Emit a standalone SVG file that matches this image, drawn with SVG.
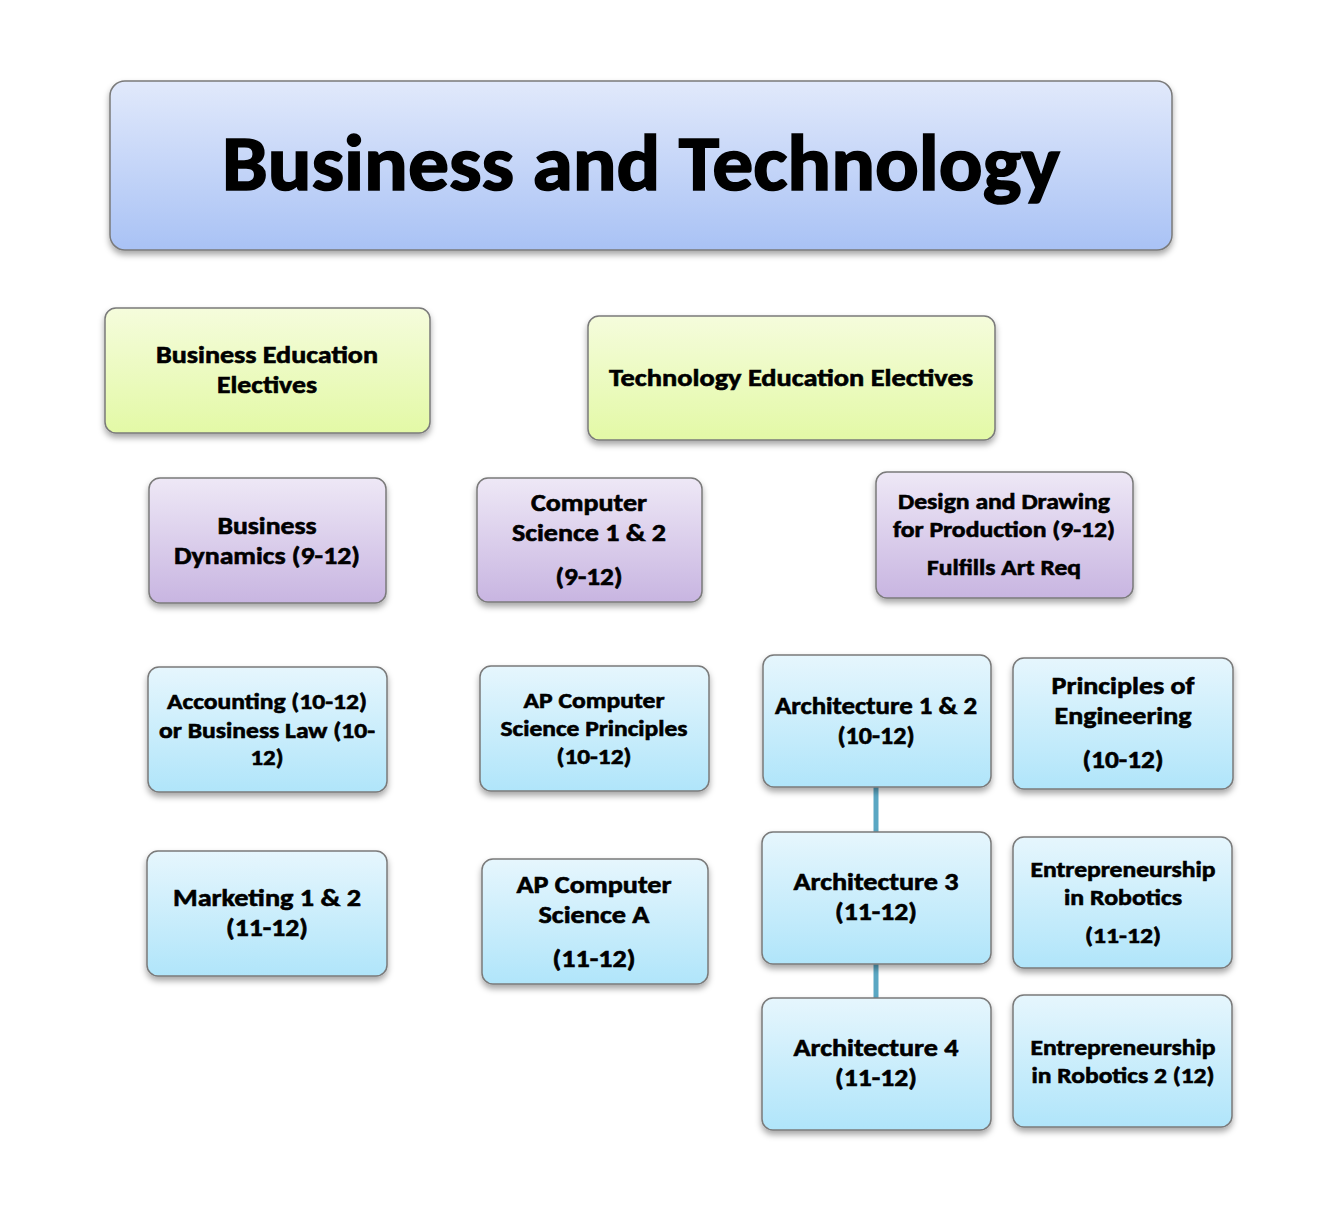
<svg xmlns="http://www.w3.org/2000/svg" width="1332" height="1228" viewBox="0 0 1332 1228">
<defs>
<linearGradient id="gTitle" x1="0" y1="0" x2="0" y2="1"><stop offset="0" stop-color="#e1e9fb"/><stop offset="1" stop-color="#a9c2f5"/></linearGradient>
<linearGradient id="gGreen" x1="0" y1="0" x2="0" y2="1"><stop offset="0" stop-color="#f5fcdc"/><stop offset="1" stop-color="#e3f9a6"/></linearGradient>
<linearGradient id="gPurple" x1="0" y1="0" x2="0" y2="1"><stop offset="0" stop-color="#eee8f6"/><stop offset="1" stop-color="#c8b5e1"/></linearGradient>
<linearGradient id="gBlue" x1="0" y1="0" x2="0" y2="1"><stop offset="0" stop-color="#e6f6fd"/><stop offset="1" stop-color="#b0e5fa"/></linearGradient>
<filter id="sh" x="-10%" y="-10%" width="120%" height="130%"><feDropShadow dx="0" dy="4" stdDeviation="3" flood-color="#000" flood-opacity="0.35"/></filter>
<style>
.box{stroke:#7a7a7a;stroke-width:1.5;filter:url(#sh)}
text{font-family:Carlito,Lato,"Liberation Sans",sans-serif;font-weight:bold;fill:#000;stroke:#000;stroke-width:0.6;text-anchor:middle}
.f25{font-size:25px}
.f23{font-size:23px}
.big{font-size:78px;stroke-width:1.6}
.conn{stroke:#5aa7c3;stroke-width:5;fill:none}
</style>
</defs>
<rect width="1332" height="1228" fill="#fff"/>
<g id="connectors">
<line class="conn" x1="876" y1="787" x2="876" y2="832"/>
<line class="conn" x1="876" y1="964" x2="876" y2="998"/>
</g>
<g id="title">
<rect class="box" x="110" y="81" width="1062" height="169" rx="15" fill="url(#gTitle)"/>
<text class="big" x="641" y="190" textLength="838" lengthAdjust="spacingAndGlyphs">Business and Technology</text>
</g>
<g id="business-electives">
<rect class="box" x="105" y="308" width="325" height="125" rx="11" fill="url(#gGreen)"/>
<text class="f25" x="267" y="363" textLength="222" lengthAdjust="spacingAndGlyphs">Business Education</text>
<text class="f25" x="267" y="393" textLength="100" lengthAdjust="spacingAndGlyphs">Electives</text>
</g>
<g id="tech-electives">
<rect class="box" x="588" y="316" width="407" height="124" rx="11" fill="url(#gGreen)"/>
<text class="f25" x="791" y="386" textLength="364" lengthAdjust="spacingAndGlyphs">Technology Education Electives</text>
</g>
<g id="business-dynamics">
<rect class="box" x="149" y="478" width="237" height="125" rx="11" fill="url(#gPurple)"/>
<text class="f25" x="267" y="534" textLength="99" lengthAdjust="spacingAndGlyphs">Business</text>
<text class="f25" x="267" y="564" textLength="186" lengthAdjust="spacingAndGlyphs">Dynamics (9-12)</text>
</g>
<g id="computer-science">
<rect class="box" x="477" y="478" width="225" height="124" rx="11" fill="url(#gPurple)"/>
<text class="f25" x="589" y="511" textLength="116" lengthAdjust="spacingAndGlyphs">Computer</text>
<text class="f25" x="589" y="541" textLength="154" lengthAdjust="spacingAndGlyphs">Science 1 &amp; 2</text>
<text class="f25" x="589" y="585" textLength="67" lengthAdjust="spacingAndGlyphs">(9-12)</text>
</g>
<g id="design-drawing">
<rect class="box" x="876" y="472" width="257" height="126" rx="11" fill="url(#gPurple)"/>
<text class="f23" x="1004" y="509" textLength="212" lengthAdjust="spacingAndGlyphs">Design and Drawing</text>
<text class="f23" x="1004" y="537" textLength="222" lengthAdjust="spacingAndGlyphs">for Production (9-12)</text>
<text class="f23" x="1004" y="575" textLength="154" lengthAdjust="spacingAndGlyphs">Fulfills Art Req</text>
</g>
<g id="accounting">
<rect class="box" x="148" y="667" width="239" height="125" rx="11" fill="url(#gBlue)"/>
<text class="f23" x="267" y="709" textLength="200" lengthAdjust="spacingAndGlyphs">Accounting (10-12)</text>
<text class="f23" x="267" y="738" textLength="216" lengthAdjust="spacingAndGlyphs">or Business Law (10-</text>
<text class="f23" x="267" y="765" textLength="33" lengthAdjust="spacingAndGlyphs">12)</text>
</g>
<g id="ap-csp">
<rect class="box" x="480" y="666" width="229" height="125" rx="11" fill="url(#gBlue)"/>
<text class="f23" x="594" y="708" textLength="141" lengthAdjust="spacingAndGlyphs">AP Computer</text>
<text class="f23" x="594" y="736" textLength="187" lengthAdjust="spacingAndGlyphs">Science Principles</text>
<text class="f23" x="594" y="764" textLength="75" lengthAdjust="spacingAndGlyphs">(10-12)</text>
</g>
<g id="architecture-1-2">
<rect class="box" x="763" y="655" width="228" height="132" rx="11" fill="url(#gBlue)"/>
<text class="f25" x="876" y="714" textLength="202" lengthAdjust="spacingAndGlyphs">Architecture 1 &amp; 2</text>
<text class="f25" x="876" y="744" textLength="77" lengthAdjust="spacingAndGlyphs">(10-12)</text>
</g>
<g id="principles-engineering">
<rect class="box" x="1013" y="658" width="220" height="131" rx="11" fill="url(#gBlue)"/>
<text class="f25" x="1123" y="694" textLength="143" lengthAdjust="spacingAndGlyphs">Principles of</text>
<text class="f25" x="1123" y="724" textLength="137" lengthAdjust="spacingAndGlyphs">Engineering</text>
<text class="f25" x="1123" y="768" textLength="81" lengthAdjust="spacingAndGlyphs">(10-12)</text>
</g>
<g id="marketing">
<rect class="box" x="147" y="851" width="240" height="125" rx="11" fill="url(#gBlue)"/>
<text class="f25" x="267" y="906" textLength="188" lengthAdjust="spacingAndGlyphs">Marketing 1 &amp; 2</text>
<text class="f25" x="267" y="936" textLength="82" lengthAdjust="spacingAndGlyphs">(11-12)</text>
</g>
<g id="ap-csa">
<rect class="box" x="482" y="859" width="226" height="125" rx="11" fill="url(#gBlue)"/>
<text class="f25" x="594" y="893" textLength="155" lengthAdjust="spacingAndGlyphs">AP Computer</text>
<text class="f25" x="594" y="923" textLength="111" lengthAdjust="spacingAndGlyphs">Science A</text>
<text class="f25" x="594" y="967" textLength="83" lengthAdjust="spacingAndGlyphs">(11-12)</text>
</g>
<g id="architecture-3">
<rect class="box" x="762" y="832" width="229" height="132" rx="11" fill="url(#gBlue)"/>
<text class="f25" x="876" y="890" textLength="165" lengthAdjust="spacingAndGlyphs">Architecture 3</text>
<text class="f25" x="876" y="920" textLength="82" lengthAdjust="spacingAndGlyphs">(11-12)</text>
</g>
<g id="entrepreneurship-robotics">
<rect class="box" x="1013" y="837" width="219" height="131" rx="11" fill="url(#gBlue)"/>
<text class="f23" x="1123" y="877" textLength="185" lengthAdjust="spacingAndGlyphs">Entrepreneurship</text>
<text class="f23" x="1123" y="905" textLength="118" lengthAdjust="spacingAndGlyphs">in Robotics</text>
<text class="f23" x="1123" y="943" textLength="76" lengthAdjust="spacingAndGlyphs">(11-12)</text>
</g>
<g id="architecture-4">
<rect class="box" x="762" y="998" width="229" height="132" rx="11" fill="url(#gBlue)"/>
<text class="f25" x="876" y="1056" textLength="165" lengthAdjust="spacingAndGlyphs">Architecture 4</text>
<text class="f25" x="876" y="1086" textLength="82" lengthAdjust="spacingAndGlyphs">(11-12)</text>
</g>
<g id="entrepreneurship-robotics-2">
<rect class="box" x="1013" y="995" width="219" height="132" rx="11" fill="url(#gBlue)"/>
<text class="f23" x="1123" y="1055" textLength="185" lengthAdjust="spacingAndGlyphs">Entrepreneurship</text>
<text class="f23" x="1123" y="1083" textLength="183" lengthAdjust="spacingAndGlyphs">in Robotics 2 (12)</text>
</g>
</svg>
